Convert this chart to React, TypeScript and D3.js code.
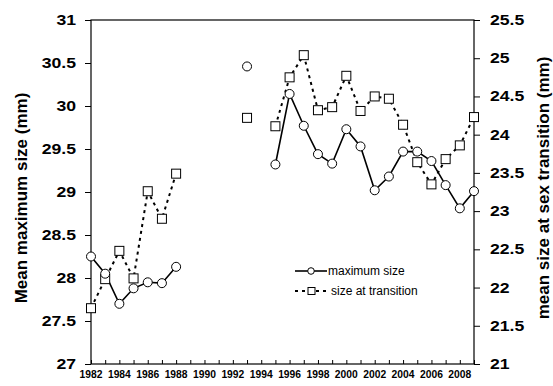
import * as d3 from "d3";
import { useEffect, useRef } from "react";

const YEARS = [
  1982, 1983, 1984, 1985, 1986, 1987, 1988, 1989, 1990, 1991, 1992, 1993, 1994, 1995,
  1996, 1997, 1998, 1999, 2000, 2001, 2002, 2003, 2004, 2005, 2006, 2007, 2008, 2009,
];

// mean maximum size (left axis), null = no sample that year
const MAX_SIZE: (number | null)[] = [
  28.25, 28.05, 27.7, 27.88, 27.95, 27.94, 28.13, null, null, null, null, 30.46, null, 29.32,
  30.14, 29.77, 29.44, 29.33, 29.73, 29.53, 29.02, 29.18, 29.47, 29.47, 29.36, 29.08, 28.81, 29.01,
];

// mean size at sex transition (right axis)
const TRANSITION_SIZE: (number | null)[] = [
  21.73, 22.11, 22.48, 22.12, 23.26, 22.9, 23.49, null, null, null, null, 24.22, null, 24.11,
  24.75, 25.04, 24.32, 24.36, 24.77, 24.31, 24.5, 24.47, 24.13, 23.64, 23.35, 23.68, 23.86, 24.23,
];

const LEFT_TICKS = [27, 27.5, 28, 28.5, 29, 29.5, 30, 30.5, 31];
const RIGHT_TICKS = [21, 21.5, 22, 22.5, 23, 23.5, 24, 24.5, 25, 25.5];
const YEAR_LABELS = [1982, 1984, 1986, 1988, 1990, 1992, 1994, 1996, 1998, 2000, 2002, 2004, 2006, 2008];

const FONT = "'Liberation Sans', Arial, sans-serif";

type Pt = { year: number; v: number | null };

export default function App() {
  const ref = useRef<SVGSVGElement>(null);

  useEffect(() => {
    if (!ref.current) return;
    const svg = d3.select(ref.current);
    svg.selectAll("*").remove();

    const width = 553;
    const height = 386;
    const margin = { top: 20, right: 79, bottom: 22, left: 91 };
    const innerW = width - margin.left - margin.right;
    const innerH = height - margin.top - margin.bottom;

    const x = d3.scaleLinear().domain([1982, 2009]).range([0, innerW]);
    const yL = d3.scaleLinear().domain([27, 31]).range([innerH, 0]);
    const yR = d3.scaleLinear().domain([21, 25.5]).range([innerH, 0]);

    const g = svg.append("g").attr("transform", `translate(${margin.left},${margin.top})`);

    // frame
    g.append("rect")
      .attr("width", innerW)
      .attr("height", innerH)
      .attr("fill", "none")
      .attr("stroke", "#000")
      .attr("stroke-width", 1.2);

    // ticks only, labels drawn by hand below (they are stretched wide)
    const noLabel = () => "";
    g.append("g")
      .call(d3.axisLeft(yL).tickValues(LEFT_TICKS).tickSize(6).tickSizeOuter(0).tickFormat(noLabel))
      .call((a) => a.select(".domain").remove());
    g.append("g")
      .attr("transform", `translate(${innerW},0)`)
      .call(d3.axisRight(yR).tickValues(RIGHT_TICKS).tickSize(6).tickSizeOuter(0).tickFormat(noLabel))
      .call((a) => a.select(".domain").remove());
    g.append("g")
      .attr("transform", `translate(0,${innerH})`)
      .call(d3.axisBottom(x).tickValues(YEARS).tickSize(-4).tickSizeOuter(0).tickFormat(noLabel))
      .call((a) => a.select(".domain").remove());
    g.selectAll(".tick line").attr("stroke", "#000").attr("stroke-width", 1);

    g.append("g")
      .selectAll("text")
      .data(LEFT_TICKS)
      .join("text")
      .attr("transform", (d) => `translate(-15,${yL(d)}) scale(1.26,1)`)
      .attr("dy", "0.36em")
      .attr("text-anchor", "end")
      .attr("font-family", FONT)
      .attr("font-weight", "bold")
      .attr("font-size", 14)
      .text((d) => String(d));

    g.append("g")
      .selectAll("text")
      .data(RIGHT_TICKS)
      .join("text")
      .attr("transform", (d) => `translate(${innerW + 16},${yR(d)}) scale(1.26,1)`)
      .attr("dy", "0.36em")
      .attr("text-anchor", "start")
      .attr("font-family", FONT)
      .attr("font-weight", "bold")
      .attr("font-size", 14)
      .text((d) => String(d));

    g.append("g")
      .selectAll("text")
      .data(YEAR_LABELS)
      .join("text")
      .attr("x", (d) => x(d))
      .attr("y", innerH + 14)
      .attr("text-anchor", "middle")
      .attr("font-family", FONT)
      .attr("font-weight", "bold")
      .attr("font-size", 10.3)
      .text((d) => String(d));

    // axis titles
    svg.append("text")
      .attr("transform", `translate(27,198) rotate(-90)`)
      .attr("text-anchor", "middle")
      .attr("font-family", FONT)
      .attr("font-weight", "bold")
      .attr("font-size", 17)
      .text("Mean maximum size (mm)");
    svg.append("text")
      .attr("transform", `translate(549,188) rotate(-90)`)
      .attr("text-anchor", "middle")
      .attr("font-family", FONT)
      .attr("font-weight", "bold")
      .attr("font-size", 17)
      .text("mean size at sex transition (mm)");

    const maxPts: Pt[] = YEARS.map((year, i) => ({ year, v: MAX_SIZE[i] }));
    const trPts: Pt[] = YEARS.map((year, i) => ({ year, v: TRANSITION_SIZE[i] }));

    const lineL = d3
      .line<Pt>()
      .defined((d) => d.v != null)
      .x((d) => x(d.year))
      .y((d) => yL(d.v as number));
    const lineR = d3
      .line<Pt>()
      .defined((d) => d.v != null)
      .x((d) => x(d.year))
      .y((d) => yR(d.v as number));

    g.append("path")
      .attr("d", lineL(maxPts))
      .attr("fill", "none")
      .attr("stroke", "#000")
      .attr("stroke-width", 1.6);

    g.append("path")
      .attr("d", lineR(trPts))
      .attr("fill", "none")
      .attr("stroke", "#000")
      .attr("stroke-width", 2)
      .attr("stroke-dasharray", "3,4");

    g.append("g")
      .selectAll("rect")
      .data(trPts.filter((d) => d.v != null))
      .join("rect")
      .attr("x", (d) => x(d.year) - 4.5)
      .attr("y", (d) => yR(d.v as number) - 4.5)
      .attr("width", 9)
      .attr("height", 9)
      .attr("fill", "#fff")
      .attr("stroke", "#000")
      .attr("stroke-width", 1);

    g.append("g")
      .selectAll("circle")
      .data(maxPts.filter((d) => d.v != null))
      .join("circle")
      .attr("cx", (d) => x(d.year))
      .attr("cy", (d) => yL(d.v as number))
      .attr("r", 4.5)
      .attr("fill", "#fff")
      .attr("stroke", "#000")
      .attr("stroke-width", 1);

    // legend
    const lg = svg.append("g");
    lg.append("line")
      .attr("x1", 295).attr("x2", 327).attr("y1", 271).attr("y2", 271)
      .attr("stroke", "#000").attr("stroke-width", 1.6);
    lg.append("circle")
      .attr("cx", 311).attr("cy", 271).attr("r", 3.3)
      .attr("fill", "#fff").attr("stroke", "#000");
    lg.append("text")
      .attr("x", 328).attr("y", 271).attr("dy", "0.35em")
      .attr("font-family", FONT).attr("font-size", 12)
      .text("maximum size");
    lg.append("line")
      .attr("x1", 295).attr("x2", 330).attr("y1", 291).attr("y2", 291)
      .attr("stroke", "#000").attr("stroke-width", 2).attr("stroke-dasharray", "3,4");
    lg.append("rect")
      .attr("x", 308).attr("y", 287.5).attr("width", 7).attr("height", 7)
      .attr("fill", "#fff").attr("stroke", "#000");
    lg.append("text")
      .attr("x", 331).attr("y", 291).attr("dy", "0.35em")
      .attr("font-family", FONT).attr("font-size", 12)
      .text("size at transition");
  }, []);

  return (
    <svg
      ref={ref}
      width={553}
      height={386}
      style={{ position: "absolute", left: 0, top: 0, background: "#fff" }}
    />
  );
}
